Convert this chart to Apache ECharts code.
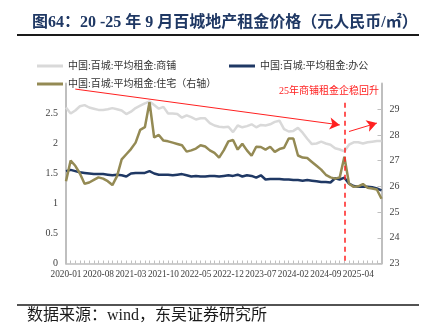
<!DOCTYPE html>
<html>
<head>
<meta charset="utf-8">
<script src="https://cdn.jsdelivr.net/npm/echarts@6/dist/echarts.min.js"></script>
<style>html,body{margin:0;padding:0;background:#fff;}#c{width:428px;height:333px;}</style>
</head>
<body>
<div id="c"></div>
<script>
var months = ['2020-01','2020-02','2020-03','2020-04','2020-05','2020-06','2020-07','2020-08','2020-09','2020-10','2020-11','2020-12',
'2021-01','2021-02','2021-03','2021-04','2021-05','2021-06','2021-07','2021-08','2021-09','2021-10','2021-11','2021-12',
'2022-01','2022-02','2022-03','2022-04','2022-05','2022-06','2022-07','2022-08','2022-09','2022-10','2022-11','2022-12',
'2023-01','2023-02','2023-03','2023-04','2023-05','2023-06','2023-07','2023-08','2023-09','2023-10','2023-11','2023-12',
'2024-01','2024-02','2024-03','2024-04','2024-05','2024-06','2024-07','2024-08','2024-09','2024-10','2024-11','2024-12',
'2025-01','2025-02','2025-03','2025-04','2025-05','2025-06','2025-07','2025-08','2025-09'];

var shop = [2.60,2.50,2.55,2.62,2.64,2.60,2.58,2.56,2.56,2.57,2.59,2.57,
2.55,2.49,2.53,2.59,2.63,2.67,2.70,2.64,2.58,2.61,2.50,2.50,
2.49,2.43,2.47,2.44,2.40,2.42,2.42,2.34,2.30,2.28,2.27,2.28,
2.19,2.30,2.27,2.29,2.32,2.27,2.31,2.30,2.32,2.36,2.38,2.24,
2.20,2.21,2.26,2.18,2.08,1.99,2.00,2.03,2.00,1.98,1.92,1.90,
1.87,1.98,2.02,2.02,2.00,2.02,2.03,2.04,2.04];

var office = [1.54,1.56,1.54,1.52,1.51,1.50,1.49,1.49,1.49,1.48,1.47,1.48,
1.47,1.45,1.50,1.51,1.51,1.51,1.54,1.50,1.48,1.48,1.48,1.47,
1.48,1.49,1.47,1.45,1.46,1.45,1.45,1.46,1.46,1.45,1.46,1.47,
1.46,1.48,1.45,1.47,1.46,1.43,1.47,1.40,1.41,1.41,1.41,1.40,
1.40,1.39,1.39,1.38,1.39,1.38,1.37,1.36,1.36,1.35,1.42,1.40,
1.43,1.33,1.29,1.28,1.28,1.28,1.27,1.25,1.22];

var housing = [26.2,27.0,26.8,26.5,26.1,26.15,26.25,26.35,26.3,26.2,26.05,26.4,
27.05,27.25,27.45,27.7,28.2,28.3,29.27,27.9,28.0,27.78,27.75,27.7,
27.65,27.6,27.35,27.4,27.47,27.6,27.55,27.4,27.3,27.12,27.4,27.75,
27.8,27.43,27.66,27.4,27.19,27.54,27.53,27.43,27.54,27.34,27.45,27.5,
27.86,27.86,27.2,27.12,27.1,26.95,26.8,26.65,26.45,26.35,26.3,26.35,
27.15,26.1,25.98,26.0,26.09,25.95,25.92,25.88,25.52];

var names = ['中国:百城:平均租金:商铺','中国:百城:平均租金:办公','中国:百城:平均租金:住宅（右轴）'];
var leftTicks = [0, 3, 0.5];
var rightTicks = [23, 30, 1];
var labelEvery = 7;

var serif = "'Liberation Serif','Noto Sans CJK SC',serif";
var chart = echarts.init(document.getElementById('c'), null, {renderer:'canvas'});
var red = '#ff2020';
var legendText = {fontSize:10, color:'#333', fontFamily:serif};
chart.setOption({
  animation:false,
  backgroundColor:'#fff',
  title:{
    text:'图64：20 -25 年 9 月百城地产租金价格（元人民币/㎡）',
    left:27, top:10,
    textStyle:{fontSize:16, fontWeight:'bold', color:'#1f3864', fontFamily:serif}
  },
  legend:[
    {data:[names[0]], left:32, top:56, itemWidth:26, itemHeight:3, icon:'rect', textStyle:legendText, itemGap:0},
    {data:[names[1]], left:224, top:56, itemWidth:26, itemHeight:3, icon:'rect', textStyle:legendText},
    {data:[names[2]], left:32, top:74, itemWidth:26, itemHeight:3, icon:'rect', textStyle:legendText}
  ],
  grid:{left:66, right:46.5, top:83.5, bottom:69.5, containLabel:false},
  xAxis:{
    type:'category', data:months, boundaryGap:false,
    axisLine:{lineStyle:{color:'#bfbfbf', width:1.5}},
    axisTick:{show:true, inside:true, length:3, interval:0, lineStyle:{color:'#bfbfbf'}},
    axisLabel:{interval:0, formatter:function(v, i){return i % labelEvery === 0 ? v : '';},
      fontSize:9.3, color:'#404040', fontFamily:serif, margin:6, hideOverlap:false, showMinLabel:true, showMaxLabel:true},
    splitLine:{show:false}
  },
  yAxis:[
    {type:'value', min:leftTicks[0], max:leftTicks[1], interval:leftTicks[2],
     axisLine:{show:true, lineStyle:{color:'#bfbfbf', width:2}},
     axisTick:{show:false},
     axisLabel:{fontSize:10, color:'#404040', fontFamily:serif, showMaxLabel:false, margin:8},
     splitLine:{show:false}},
    {type:'value', min:rightTicks[0], max:rightTicks[1], interval:rightTicks[2],
     axisLine:{show:true, lineStyle:{color:'#bfbfbf', width:2}},
     axisTick:{show:true, inside:true, length:4, lineStyle:{color:'#bfbfbf'}},
     axisLabel:{fontSize:10, color:'#404040', fontFamily:serif, showMaxLabel:false, margin:8},
     splitLine:{show:false}}
  ],
  series:[
    {name:names[0], type:'line', data:shop, yAxisIndex:0, showSymbol:false, symbol:'none',
     lineStyle:{color:'#d9d9d9', width:2.5}, itemStyle:{color:'#d9d9d9'}, z:2,
     markLine:{silent:true, animation:false, label:{show:false},
       data:[
         [{coord:[2, 2.907], symbol:'none'}, {coord:[59, 2.31], symbol:'arrow', symbolSize:[9,10]}],
         [{coord:[61, 2.20], symbol:'none'}, {coord:[67, 2.34], symbol:'arrow', symbolSize:[9,10]}]
       ],
       lineStyle:{color:red, width:1, type:'solid'}}
    },
    {name:names[1], type:'line', data:office, yAxisIndex:0, showSymbol:false, symbol:'none',
     lineStyle:{color:'#1f3864', width:2.5}, itemStyle:{color:'#1f3864'}, z:3,
     markLine:{silent:true, animation:false, label:{show:false}, symbol:['none','none'],
       data:[[{coord:[60, 2.68]}, {coord:[60, 0]}]],
       lineStyle:{color:red, width:1.5, type:[5,4]}}
    },
    {name:names[2], type:'line', data:housing, yAxisIndex:1, showSymbol:false, symbol:'none',
     lineStyle:{color:'#948a54', width:2.5}, itemStyle:{color:'#948a54'}, z:4}
  ],
  graphic:[
    {type:'line', shape:{x1:17, y1:35, x2:419, y2:35}, style:{stroke:'#1a1a1a', lineWidth:2}},
    {type:'line', shape:{x1:17, y1:305, x2:419, y2:305}, style:{stroke:'#1a1a1a', lineWidth:1.5}},
    {type:'text', left:279, top:86, style:{text:'25年商铺租金企稳回升', fill:red, font:"10px 'Liberation Serif','Noto Sans CJK SC',serif"}},
    {type:'text', left:27, top:308, style:{text:'数据来源：wind，东吴证券研究所', fill:'#1a1a1a', font:"16px 'Liberation Serif','Noto Sans CJK SC',serif"}}
  ]
});
</script>
</body>
</html>
